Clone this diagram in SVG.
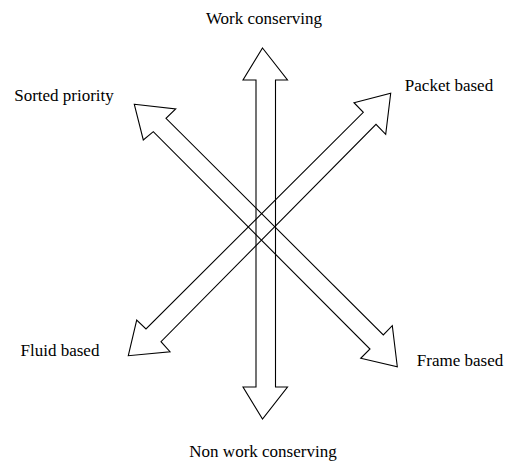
<svg xmlns="http://www.w3.org/2000/svg" width="505" height="462" viewBox="0 0 505 462">
  <style>
    .arrow { fill: none; stroke: #000; stroke-width: 1.1; stroke-linejoin: miter; }
    .label { font-family: "Liberation Serif", "Times New Roman", serif; font-size: 17px; fill: #000; text-anchor: middle; }
  </style>
  <rect width="505" height="462" fill="#fff"/>
  <g id="connectors">
    <!-- vertical double arrow: work conserving / non work conserving -->
    <polygon id="axis-work" class="arrow" points="262.5,48 287.5,80 275.5,80 275.5,387 287.5,387 262.5,419 243,387 256,387 256,80 243,80"/>
    <!-- diagonal double arrow: sorted priority / frame based -->
    <polygon id="axis-sorted-frame" class="arrow" points="134.3,104.3 175.7,109 166,118.3 383.3,335 392.3,325.7 397.3,366.7 360.7,358.3 370,349 153.3,131.7 143.3,140"/>
    <!-- diagonal double arrow: fluid based / packet based -->
    <polygon id="axis-fluid-packet" class="arrow" points="390.7,93.3 385.7,134.3 376,124.3 161,341.7 170,351.7 128.3,355.7 136.7,320 146,329 363.3,112.3 354,102.7"/>
  </g>
  <g id="node-work-conserving"><text class="label" x="264" y="24">Work conserving</text></g>
  <g id="node-non-work-conserving"><text class="label" x="263" y="457">Non work conserving</text></g>
  <g id="node-sorted-priority"><text class="label" x="64" y="101">Sorted priority</text></g>
  <g id="node-packet-based"><text class="label" x="449" y="91">Packet based</text></g>
  <g id="node-fluid-based"><text class="label" x="60" y="356">Fluid based</text></g>
  <g id="node-frame-based"><text class="label" x="460" y="366">Frame based</text></g>
</svg>
